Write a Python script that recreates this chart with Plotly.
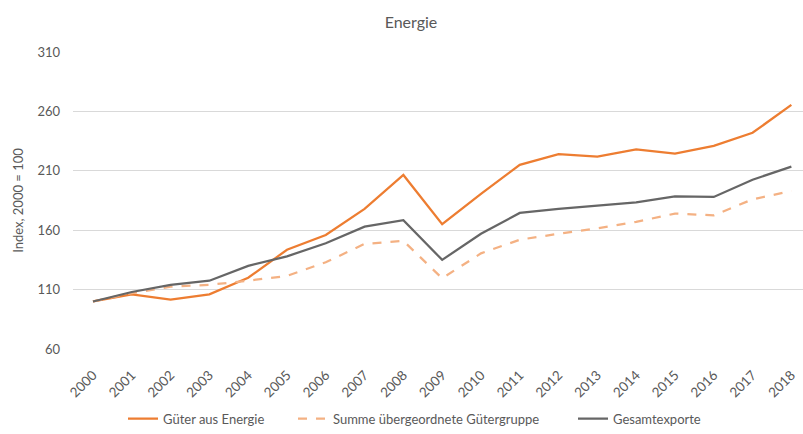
import plotly.graph_objects as go

years = [str(y) for y in range(2000, 2019)]
gueter_energie = [100, 106, 101.5, 106, 120, 143.5, 156, 178, 206.5, 165, 190.5, 215, 224, 222, 228, 224.5, 231, 242, 265.5]
summe_gruppe = [100, 107, 112.5, 114, 117.5, 121.5, 133, 148.5, 151, 119.5, 140.5, 152, 157, 161.5, 167, 174, 172.5, 186, 193]
gesamtexporte = [100, 108, 114, 117.5, 130, 138, 149, 163, 168.5, 135, 157, 174.5, 178, 181, 183.5, 188.5, 188, 202.5, 213.5]

names = ["Güter aus Energie", "Summe übergeordnete Gütergruppe", "Gesamtexporte"]
ytickvals = [60, 110, 160, 210, 260, 310]

FONT = "Lato, 'Open Sans', sans-serif"
TXT = "#595959"

fig = go.Figure()
fig.add_trace(go.Scatter(x=years, y=gueter_energie, mode="lines", name=names[0],
                         line=dict(color="#ED7D31", width=2.25), legend="legend"))
fig.add_trace(go.Scatter(x=years, y=summe_gruppe, mode="lines", name=names[1],
                         line=dict(color="#F4B183", width=2.25, dash="dash"), legend="legend2"))
fig.add_trace(go.Scatter(x=years, y=gesamtexporte, mode="lines", name=names[2],
                         line=dict(color="#666666", width=2.25), legend="legend3"))

leg_common = dict(orientation="h", xanchor="left", y=-0.235, yanchor="middle",
                  font=dict(size=13, color=TXT, family=FONT), bgcolor="rgba(0,0,0,0)")

fig.update_layout(
    width=803, height=434,
    margin=dict(l=73, r=0, t=52, b=80),
    paper_bgcolor="white", plot_bgcolor="white",
    font=dict(family=FONT, size=13, color=TXT),
    title=dict(text="Energie", x=411 / 803, xref="container", xanchor="center",
               y=1 - 22 / 434, yref="container", yanchor="middle",
               font=dict(size=16, color=TXT, family=FONT)),
    showlegend=True,
    legend=dict(x=(123 - 73) / 730, **leg_common),
    legend2=dict(x=(293 - 73) / 730, **leg_common),
    legend3=dict(x=(573 - 73) / 730, **leg_common),
    xaxis=dict(type="category", range=[-0.515, 18.3], tickangle=-45, showgrid=False,
               zeroline=False, showline=False, ticks="outside", ticklen=12,
               tickcolor="rgba(0,0,0,0)",
               tickfont=dict(size=13.5, color=TXT, family=FONT)),
    yaxis=dict(range=[60, 310], tickvals=ytickvals, showgrid=True, gridcolor="#D9D9D9",
               gridwidth=1, zeroline=False, showline=False, ticks="",
               ticklabelstandoff=12,
               tickfont=dict(size=13, color=TXT, family=FONT),
               title=dict(text="Index, 2000 = 100", standoff=10,
                          font=dict(size=13, color=TXT, family=FONT))),
)

fig.write_html("out.html")
